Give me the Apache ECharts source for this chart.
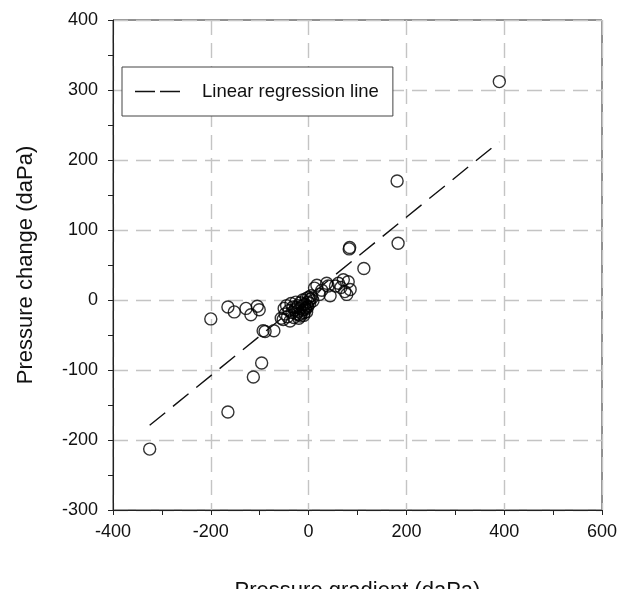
<!DOCTYPE html>
<html>
<head>
<meta charset="utf-8">
<script src="https://cdn.jsdelivr.net/npm/echarts@6/dist/echarts.min.js"></script>
<style>html,body{margin:0;padding:0;background:#fff}#c{width:622px;height:589px}</style>
</head>
<body>
<div id="c"></div>
<script>
// Pressure gradient (x) and pressure change (y), daPa
const gradX = [390, 181, 183, 113, 83, 84, -325, -165, -113, -96, -200, -165, -152, -128, -118, -105, -101, -93, -89, -71,
  17, 27, 37, 44, 40, 61, 66, 71, 74, 81, 85, 78, 55, 22, 12,
  -52, -50, -48, -45, -43, -40, -38, -36, -34, -32, -30, -28, -26, -25, -22, -21, -20, -18, -17, -15, -14, -12, -11, -10, -8, -7, -5, -4, -3, -1, 0, 2, 3, 5, 7, 9, -19, -24, -16, -9, -6, -2, -56];
const changeY = [312, 170, 81, 45, 73, 75, -213, -160, -110, -90, -27, -10, -17, -12, -21, -9, -14, -44, -45, -44,
  21, 14, 24, 6, 20, 24, 18, 29, 12, 26, 15, 8, 20, 8, 17,
  -28, -12, -20, -8, -24, -15, -30, -5, -18, -10, -25, -14, -3, -20, -8, -16, -26, -12, -4, -19, -9, 0, -14, -22, -6, -11, 2, -17, -8, -3, 4, -5, 1, 6, 3, -1, -21, -11, -23, -18, -13, -10, -26];
// Regression line end points
const regX = [-325, 390];
const regY = [-179, 226];
const xTicks = [-400, -200, 0, 200, 400, 600];
const yTicks = [-300, -200, -100, 0, 100, 200, 300, 400];

const pts = gradX.map((v, i) => [v, changeY[i]]);
const reg = regX.map((v, i) => [v, regY[i]]);
const FONT = 'Liberation Sans, Arial, sans-serif';

const chart = echarts.init(document.getElementById('c'), null, {renderer: 'canvas'});
chart.setOption({
  animation: false,
  backgroundColor: '#fff',
  grid: {left: 113, top: 20, right: 20, bottom: 79, show: true, borderColor: '#222', borderWidth: 1,
         containLabel: false, outerBoundsMode: 'none'},
  legend: {
    data: [{name: 'Linear regression line', icon: 'path://M0,0H20V1.5H0Z M25,0H45V1.5H25Z'}],
    left: 122, top: 67,
    orient: 'vertical',
    padding: [15, 14, 15, 13],
    borderColor: '#444', borderWidth: 1, borderRadius: 0,
    backgroundColor: '#fff',
    itemWidth: 45, itemHeight: 1.5, itemGap: 10,
    itemStyle: {color: '#111', borderWidth: 0},
    textStyle: {fontFamily: FONT, fontSize: 18.5, color: '#111', padding: [0, 0, 0, 17]}
  },
  xAxis: {
    type: 'value', min: xTicks[0], max: xTicks[xTicks.length - 1], interval: 200,
    name: 'Pressure gradient (daPa)', nameLocation: 'middle', nameGap: 70,
    nameTextStyle: {fontFamily: FONT, fontSize: 22, color: '#111'},
    axisLine: {show: true, onZero: false, lineStyle: {color: '#222', width: 1}},
    axisTick: {show: true, inside: false, length: 5, lineStyle: {color: '#222'}},
    minorTick: {show: true, splitNumber: 2, length: 5, lineStyle: {color: '#222'}},
    axisLabel: {fontFamily: FONT, fontSize: 18, color: '#111', margin: 13},
    splitLine: {show: true, lineStyle: {color: '#c4c4c4', type: [15, 8], width: 1.4}}
  },
  yAxis: {
    type: 'value', min: yTicks[0], max: yTicks[yTicks.length - 1], interval: 100,
    name: 'Pressure change (daPa)', nameLocation: 'middle', nameGap: 76,
    nameTextStyle: {fontFamily: FONT, fontSize: 22, color: '#111'},
    axisLine: {show: true, onZero: false, lineStyle: {color: '#222', width: 1}},
    axisTick: {show: true, inside: false, length: 5, lineStyle: {color: '#222'}},
    minorTick: {show: true, splitNumber: 2, length: 5, lineStyle: {color: '#222'}},
    axisLabel: {fontFamily: FONT, fontSize: 18, color: '#111', margin: 15},
    splitLine: {show: true, lineStyle: {color: '#c4c4c4', type: [15, 8], width: 1.4}}
  },
  series: [
    {
      name: 'data', type: 'scatter', data: pts, symbol: 'circle', symbolSize: 12,
      itemStyle: {color: 'rgba(255,255,255,0)', borderColor: '#000', borderWidth: 1.4},
      z: 3
    },
    {
      name: 'Linear regression line', type: 'line', data: reg, symbol: 'none',
      lineStyle: {color: '#111', width: 1.4, type: [20, 10]},
      itemStyle: {color: '#111'},
      z: 4
    }
  ]
});
</script>
</body>
</html>
